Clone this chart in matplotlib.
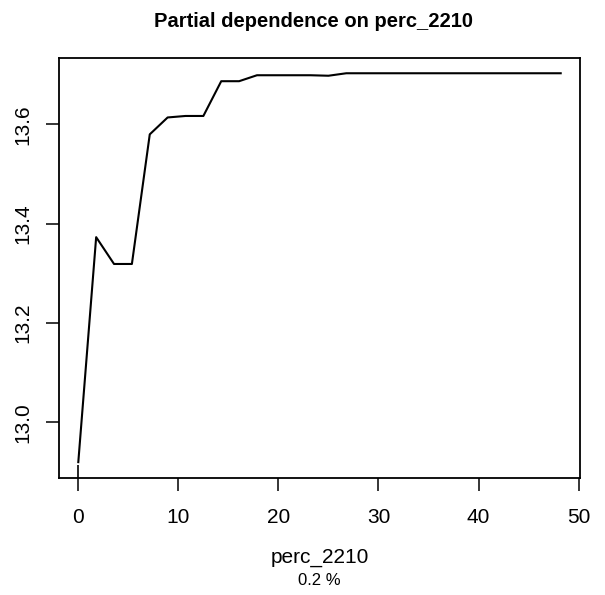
import matplotlib
matplotlib.use("Agg")
import matplotlib.pyplot as plt

# grid of perc_2210 values and partial dependence
step = 48.21 / 27
x_vals = [k * step for k in range(28)]
y_vals = [12.920, 13.373, 13.319, 13.319, 13.580, 13.614, 13.617, 13.617,
          13.687, 13.687, 13.699, 13.699, 13.699, 13.699, 13.698, 13.703,
          13.703, 13.703, 13.703, 13.703, 13.703, 13.703, 13.703, 13.703,
          13.703, 13.703, 13.703, 13.703]
rug_x = [0.0]
x_ticks = [0, 10, 20, 30, 40, 50]
y_ticks = [13.0, 13.2, 13.4, 13.6]

plt.rcParams['font.family'] = ['Liberation Sans', 'DejaVu Sans']

fig = plt.figure(figsize=(6.05, 5.95), dpi=100)
left, right, top, bottom = 59, 580, 57.7, 477.7
ax = fig.add_axes([left / 605, 1 - bottom / 595, (right - left) / 605, (bottom - top) / 595])

ax.plot(x_vals, y_vals, color='black', lw=1.5)
ax.vlines(rug_x, 0, 0.03, transform=ax.get_xaxis_transform(), color='black', lw=1.2)

# R style 4% padding
xr = max(x_vals) - min(x_vals)
yr = max(y_vals) - min(y_vals)
ax.set_xlim(min(x_vals) - 0.04 * xr, max(x_vals) + 0.04 * xr)
ax.set_ylim(min(y_vals) - 0.04 * yr, max(y_vals) + 0.04 * yr)

ax.set_xticks(x_ticks)
ax.set_yticks(y_ticks)
ax.set_xticklabels([str(t) for t in x_ticks])
ax.set_yticklabels(['%.1f' % t for t in y_ticks], rotation=90, va='center')
ax.tick_params(length=9.5, width=1.1, labelsize=15)
ax.tick_params(axis='x', pad=12)
ax.tick_params(axis='y', pad=10)
for s in ax.spines.values():
    s.set_linewidth(1.3)

cx = (left + right) / 2 / 605
fig.text(cx, 1 - 563 / 595, 'perc_2210', ha='center', va='baseline', fontsize=15)
fig.text(cx, 1 - 585 / 595, '0.2 %', ha='center', va='baseline', fontsize=12)
fig.text(314 / 605, 1 - 26.7 / 595, 'Partial dependence on perc_2210', ha='center',
         va='baseline', fontsize=14.5, fontweight='bold')

fig.savefig('out.png', dpi=100)
